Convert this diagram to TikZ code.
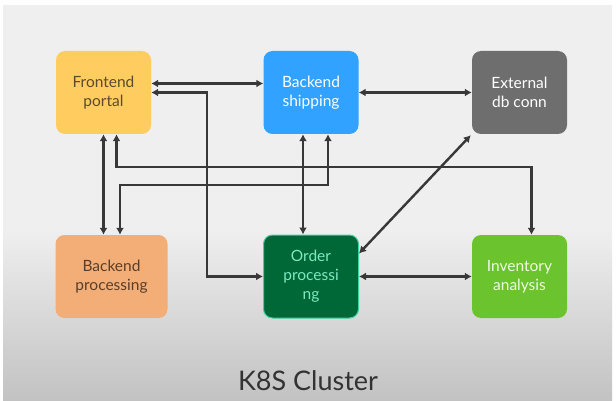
\documentclass[tikz,border=0pt]{standalone}
\usepackage{fontspec}
\setmainfont{Lato}
\usepackage{tikz}
\usetikzlibrary{arrows.meta,calc}

\definecolor{panelgray}{HTML}{EFEFEF}
\definecolor{panelbottom}{HTML}{C2C2C2}
\definecolor{linkgray}{HTML}{383838}
\definecolor{frontfill}{HTML}{FFCD5F}
\definecolor{fronttext}{HTML}{5C4A2E}
\definecolor{shipfill}{HTML}{31A2FF}
\definecolor{extfill}{HTML}{6E6E6E}
\definecolor{procfill}{HTML}{F3AD76}
\definecolor{proctext}{HTML}{5B3E28}
\definecolor{orderfill}{HTML}{006837}
\definecolor{orderline}{HTML}{3FD0A6}
\definecolor{ordertext}{HTML}{7EE8C0}
\definecolor{invfill}{HTML}{6BC42E}
\definecolor{invtext}{HTML}{EEF9E2}

\begin{document}
\begin{tikzpicture}[x=1pt,y=-1pt,
    box/.style={rounded corners=9pt,minimum width=95pt,minimum height=83pt,
      inner sep=0pt,align=center,font=\fontsize{15.5}{19}\selectfont},
    link/.style={{Latex[length=7pt,width=8pt]}-{Latex[length=7pt,width=8pt]},
      line width=2.4pt,linkgray}]
    \useasboundingbox (0,0) rectangle (616,401);
    \fill[white] (0,0) rectangle (616,401);
    \fill[panelgray] (3,5) rectangle (612,401);
    \shade[top color=panelgray,bottom color=panelbottom] (3,230) rectangle (612,401);
    % services
    \node[box,fill=frontfill,text=fronttext] (FP) at (103.5,92.5) {Frontend\\portal};
    \node[box,fill=shipfill,text=white] (BS) at (311,92.5) {Backend\\shipping};
    \node[box,fill=extfill,text=white] (EX) at (519.5,92.5) {External\\db conn};
    \node[box,fill=procfill,text=proctext,minimum width=112pt] (BP) at (111.5,276.5) {Backend\\processing};
    \node[box,fill=orderfill,draw=orderline,line width=1pt,text=ordertext] (OP) at (311,276.5) {Order\\processi\\ng};
    \node[box,fill=invfill,text=invtext] (IA) at (519.5,276.5) {Inventory\\analysis};
    \node[font=\fontsize{27}{30}\selectfont,text=black!80] (T) at (308,381) {K8S Cluster};
    % links
    \draw[link] ([yshift=9pt]FP.east) -- ([yshift=9pt]BS.west);
    \draw[link] (FP.east) -- ++(56,0) |- (OP.west);
    \draw[link] (FP.south) -- (FP.south |- BP.north);
    \draw[link] ([xshift=13pt]FP.south) -- ++(0,33) -| ([xshift=12pt]IA.north);
    \draw[link] ([xshift=17pt]BS.south) -- ++(0,51) -| ([xshift=8.5pt]BP.north);
    \draw[link] ([xshift=-8pt]BS.south) -- ([xshift=-8pt]OP.north);
    \draw[link] (BS.east) -- (EX.west);
    \draw[link] ([shift={(-1pt,-1pt)}]EX.south west) -- ([yshift=23pt]OP.east);
    \draw[link] (OP.east) -- (IA.west);
  \end{tikzpicture}
\end{document}
